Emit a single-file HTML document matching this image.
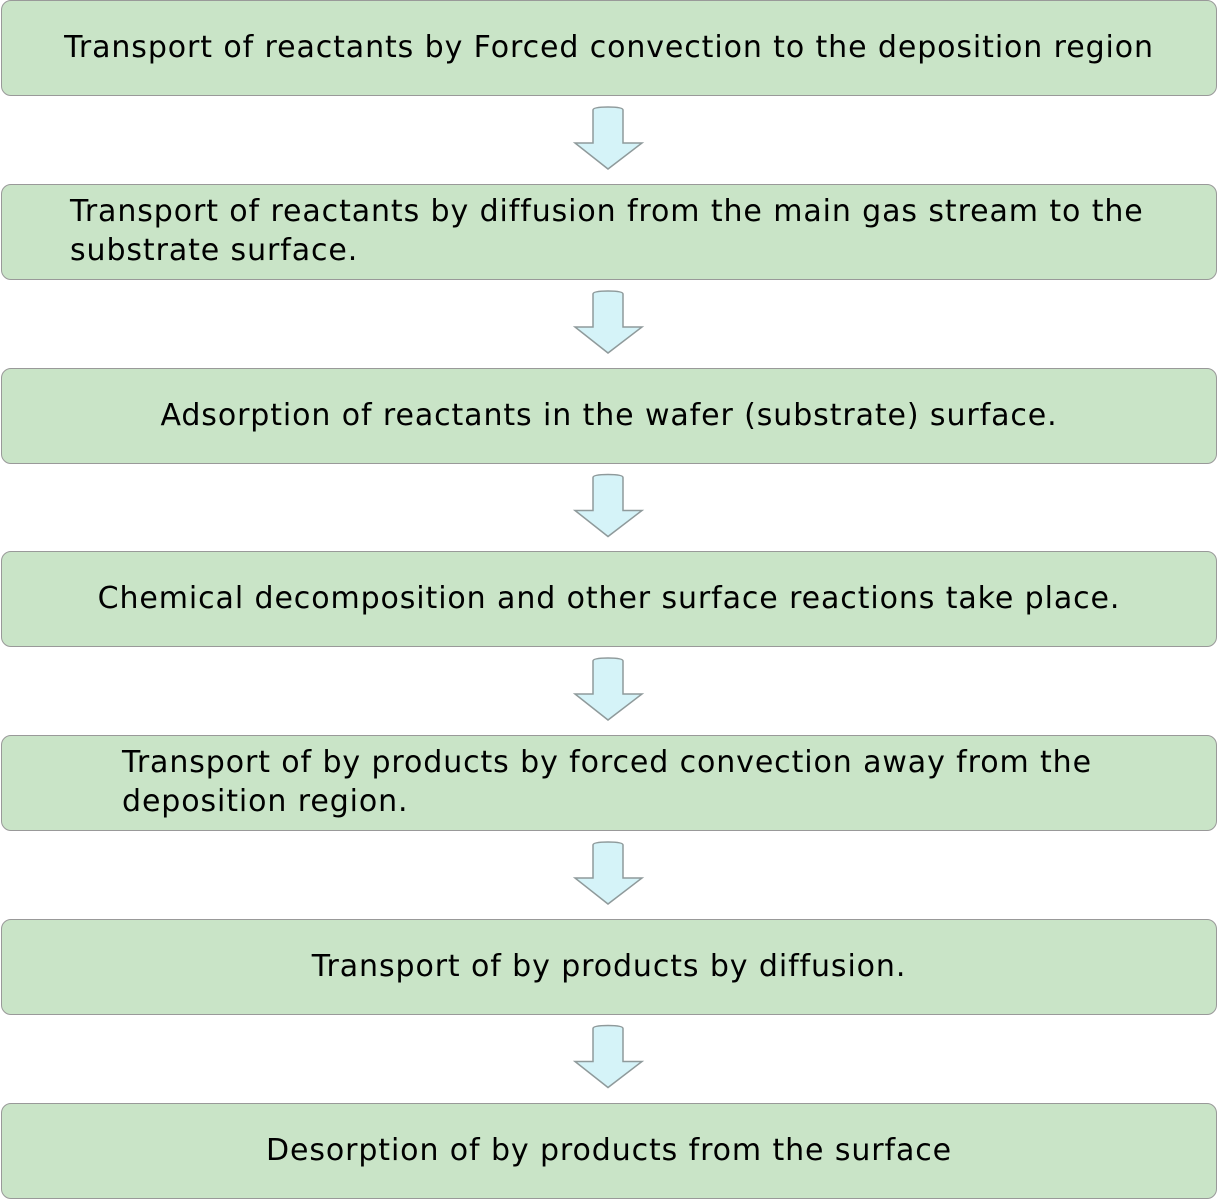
<!DOCTYPE html>
<html><head><style>
body{margin:0;width:1218px;height:1200px;background:#fff;position:relative;font-family:"DejaVu Sans",Verdana,sans-serif;}
.b{position:absolute;left:1px;width:1216px;height:96px;background:#c9e4c7;border:1.5px solid #999;border-radius:10px;font-size:30px;letter-spacing:0.9px;color:#000;display:flex;align-items:center;justify-content:center;text-align:center;line-height:39px;box-sizing:border-box;white-space:nowrap;padding-bottom:2px}
.l{justify-content:flex-start;text-align:left}
svg{position:absolute;left:0;top:0}
</style></head><body>
<div class="b" style="top:0px">Transport of reactants by Forced convection to the deposition region</div>
<div class="b l" style="top:184px;padding-left:68px">Transport of reactants by diffusion from the main gas stream to the<br>substrate surface.</div>
<div class="b" style="top:368px">Adsorption of reactants in the wafer (substrate) surface.</div>
<div class="b" style="top:551px">Chemical decomposition and other surface reactions take place.</div>
<div class="b l" style="top:735px;padding-left:120px">Transport of by products by forced convection away from the<br>deposition region.</div>
<div class="b" style="top:919px">Transport of by products by diffusion.</div>
<div class="b" style="top:1103px">Desorption of by products from the surface</div>
<svg width="1218" height="1200">
<defs><path id="a" d="M593,110 Q593,107 608,107 Q623,107 623,110 L623,143 L642,143 L608,169 L575,143 L593,143 Z" fill="#d5f3f8" stroke="#8f9a9b" stroke-width="1.5"/></defs>
<use href="#a"/>
<use href="#a" y="184"/>
<use href="#a" y="367.5"/>
<use href="#a" y="551"/>
<use href="#a" y="735"/>
<use href="#a" y="918.5"/>
</svg>
</body></html>
